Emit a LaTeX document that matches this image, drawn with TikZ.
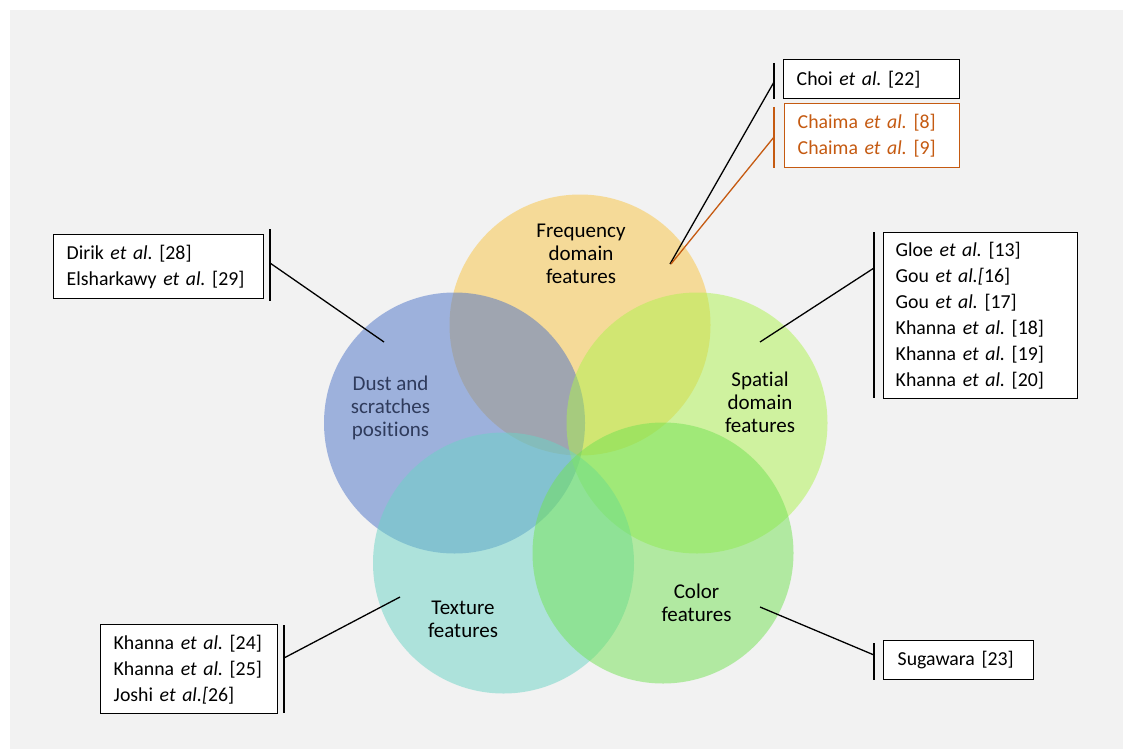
\documentclass[tikz,border=0pt]{standalone}
\usepackage{fontspec}
\setmainfont[Ligatures=NoCommon]{Carlito}
\frenchspacing
\definecolor{bgc}{HTML}{F2F2F2}
\definecolor{cfreq}{HTML}{F9C440}
\definecolor{cdust}{HTML}{4A72C8}
\definecolor{cspat}{HTML}{AEF24E}
\definecolor{ctext}{HTML}{6AD4C6}
\definecolor{ccol}{HTML}{72E252}
\definecolor{corg}{HTML}{C55A11}
\definecolor{navy}{HTML}{2F3B5C}
\begin{document}
\begin{tikzpicture}[x=1pt,y=-1pt,
  venn/.style={circle,minimum size=261pt,inner sep=0pt,fill opacity=0.5},
  ctxt/.style={align=center,inner sep=0pt,font=\fontsize{21}{23}\selectfont},
  refbox/.style={draw,line width=1.4pt,fill=white,anchor=north west,align=left,inner xsep=13pt,inner ysep=0pt,font=\fontsize{19.8}{26}\selectfont},
  brk/.style={line width=1.3pt}]
\useasboundingbox (0,0) rectangle (1123,749);
\fill[bgc] (10,10) rectangle (1123,749);
% circles
\node[venn,fill=cfreq] (freq) at (580,325) {};
\node[venn,fill=cdust] (dust) at (454.5,423) {};
\node[venn,fill=cspat] (spat) at (697,423) {};
\node[venn,fill=ctext] (text) at (503.5,563) {};
\node[venn,fill=ccol] (col) at (663,553) {};
% circle labels
\node[ctxt] (freqL) at (581,254) {Frequency\\domain\\features};
\node[ctxt,text=navy] (dustL) at (390.5,408) {Dust and\\scratches\\positions};
\node[ctxt] (spatL) at (760,402) {Spatial\\domain\\features};
\node[ctxt] (textL) at (463,619.5) {Texture\\features};
\node[ctxt] (colL) at (696.5,603) {Color\\features};
% reference boxes
\node[refbox,minimum width=176pt,minimum height=39pt,text width=150pt] (choi) at (783,59) {Choi \textit{et al.} [22]};
\node[refbox,draw=corg,text=corg,minimum width=175pt,minimum height=64pt,text width=149pt] (chaima) at (784,103) {Chaima \textit{et al.} [8]\\Chaima \textit{et al.} [9]};
\node[refbox,minimum width=210pt,minimum height=64pt,text width=184pt] (dirik) at (53,234) {Dirik \textit{et al.} [28]\\Elsharkawy \textit{et al.} [29]};
\node[refbox,minimum width=194pt,minimum height=166pt,text width=170pt,inner xsep=12pt] (gloe) at (883,232) {Gloe \textit{et al.} [13]\\Gou \textit{et al.[}16]\\Gou \textit{et al.} [17]\\Khanna \textit{et al.} [18]\\Khanna \textit{et al.} [19]\\Khanna \textit{et al.} [20]};
\node[refbox,minimum width=177pt,minimum height=89pt,text width=151pt] (khan) at (100,624) {Khanna \textit{et al.} [24]\\Khanna \textit{et al.} [25]\\Joshi \textit{et al.[}26]};
\node[refbox,minimum width=150pt,minimum height=39pt,text width=122pt,inner xsep=14pt] (suga) at (883,640) {Sugawara [23]};
% bracket coordinates
\coordinate (choiT) at (774,63); \coordinate (choiB) at (774,99); \coordinate (choiM) at (774,82); \coordinate (choiP) at (670,264);
\coordinate (chaT) at (774,107); \coordinate (chaB) at (774,168); \coordinate (chaM) at (774,137); \coordinate (chaP) at (671,264);
\coordinate (dirT) at (270,229); \coordinate (dirB) at (270,301); \coordinate (dirM) at (270,263); \coordinate (dirP) at (384,342);
\coordinate (gloT) at (874,232); \coordinate (gloB) at (874,398); \coordinate (gloM) at (874,268); \coordinate (gloP) at (760,342);
\coordinate (khaT) at (284,625); \coordinate (khaB) at (284,713); \coordinate (khaM) at (284,658); \coordinate (khaP) at (400,597);
\coordinate (sugT) at (874,643); \coordinate (sugB) at (874,680); \coordinate (sugM) at (874,655); \coordinate (sugP) at (760,607);
% brackets and leaders
\draw[brk] (choiT) -- (choiB); \draw[brk] (choiM) -- (choiP);
\draw[brk,corg] (chaT) -- (chaB); \draw[brk,corg] (chaM) -- (chaP);
\draw[brk] (dirT) -- (dirB); \draw[brk] (dirM) -- (dirP);
\draw[brk] (gloT) -- (gloB); \draw[brk] (gloM) -- (gloP);
\draw[brk] (khaT) -- (khaB); \draw[brk] (khaM) -- (khaP);
\draw[brk] (sugT) -- (sugB); \draw[brk] (sugM) -- (sugP);
\end{tikzpicture}
\end{document}
